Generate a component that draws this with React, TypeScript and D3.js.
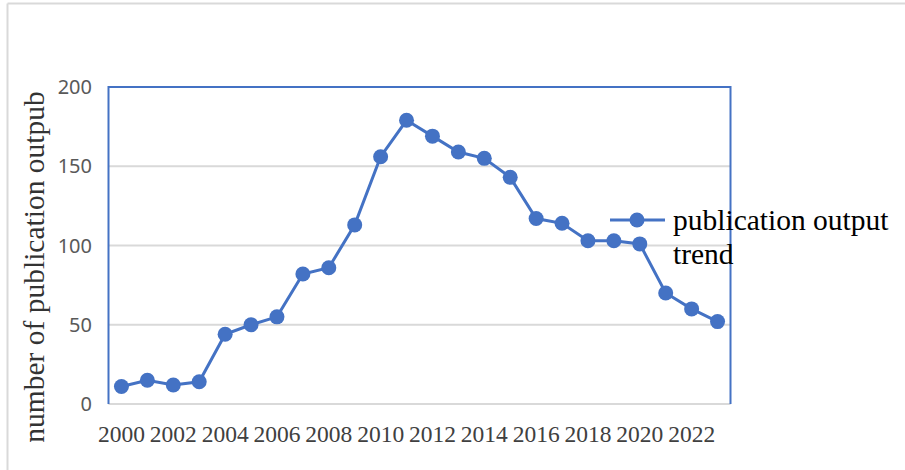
import * as d3 from "d3";

const years = d3.range(2000, 2024);
const publications = [11, 15, 12, 14, 44, 50, 55, 82, 86, 113, 156, 179, 169, 159, 155, 143, 117, 114, 103, 103, 101, 70, 60, 52];
const yTicks = [0, 50, 100, 150, 200];
const xTickYears = [2000, 2002, 2004, 2006, 2008, 2010, 2012, 2014, 2016, 2018, 2020, 2022];
const seriesName = ["publication output", "trend"];
const yTitle = "number of publication outpub";

const blue = "#4472C4";

const App = () => {
  const width = 905;
  const height = 470;
  const plot = { left: 108.5, right: 730.5, top: 87, bottom: 404 };

  const x = d3
    .scaleBand<number>()
    .domain(years)
    .range([plot.left, plot.right]);

  const y = d3.scaleLinear().domain([0, 200]).range([plot.bottom, plot.top]);

  const cx = (yr: number) => (x(yr) ?? 0) + x.bandwidth() / 2;

  const line = d3
    .line<number>()
    .x((_, i) => cx(years[i]))
    .y((d) => y(d));

  return (
    <div style={{ position: "absolute", left: 0, top: 0 }}>
      <svg width={width} height={height} style={{ display: "block", background: "#fff" }}>
        {/* chart area border (only top + left visible) */}
        <line x1={7.5} x2={width} y1={3.5} y2={3.5} stroke="#d9d9d9" strokeWidth={2} />
        <line x1={7.5} x2={7.5} y1={3.5} y2={height} stroke="#d9d9d9" strokeWidth={2} />

        {/* gridlines */}
        {yTicks.slice(1, -1).map((t) => (
          <line key={t} x1={plot.left} x2={plot.right} y1={y(t)} y2={y(t)} stroke="#d9d9d9" strokeWidth={2} />
        ))}
        <line x1={plot.left} x2={plot.right} y1={plot.bottom} y2={plot.bottom} stroke="#d9d9d9" strokeWidth={2} />

        {/* plot border */}
        <path
          d={`M${plot.left},${plot.bottom}V${plot.top}H${plot.right}V${plot.bottom}`}
          fill="none"
          stroke={blue}
          strokeWidth={2}
        />

        {/* y tick labels */}
        {yTicks.map((t) => (
          <text
            key={t}
            x={92}
            y={y(t)}
            dy="0.35em"
            textAnchor="end"
            fill="#595959"
            fontFamily="'Noto Sans', sans-serif"
            fontSize={20}
          >
            {t}
          </text>
        ))}

        {/* x tick labels */}
        {xTickYears.map((yr) => (
          <text
            key={yr}
            x={cx(yr)}
            y={442}
            textAnchor="middle"
            fill="#404040"
            fontFamily="'Liberation Serif', serif"
            fontSize={23.5}
          >
            {yr}
          </text>
        ))}

        {/* y title */}
        <text
          transform={`translate(44,267) rotate(-90)`}
          textAnchor="middle"
          fill="#333"
          fontFamily="'Liberation Serif', serif"
          fontSize={29.5}
        >
          {yTitle}
        </text>

        {/* series */}
        <path d={line(publications) ?? ""} fill="none" stroke={blue} strokeWidth={3} />
        {publications.map((v, i) => (
          <circle key={years[i]} cx={cx(years[i])} cy={y(v)} r={7.5} fill={blue} />
        ))}

        {/* legend */}
        <line x1={610} x2={665} y1={220} y2={220} stroke={blue} strokeWidth={3} />
        <circle cx={637} cy={220} r={7.5} fill={blue} />
        <text fontFamily="'Liberation Serif', serif" fontSize={29.5} fill="#000">
          <tspan x={673} y={230}>{seriesName[0]}</tspan>
          <tspan x={673} y={264}>{seriesName[1]}</tspan>
        </text>
      </svg>
    </div>
  );
};

export default App;
